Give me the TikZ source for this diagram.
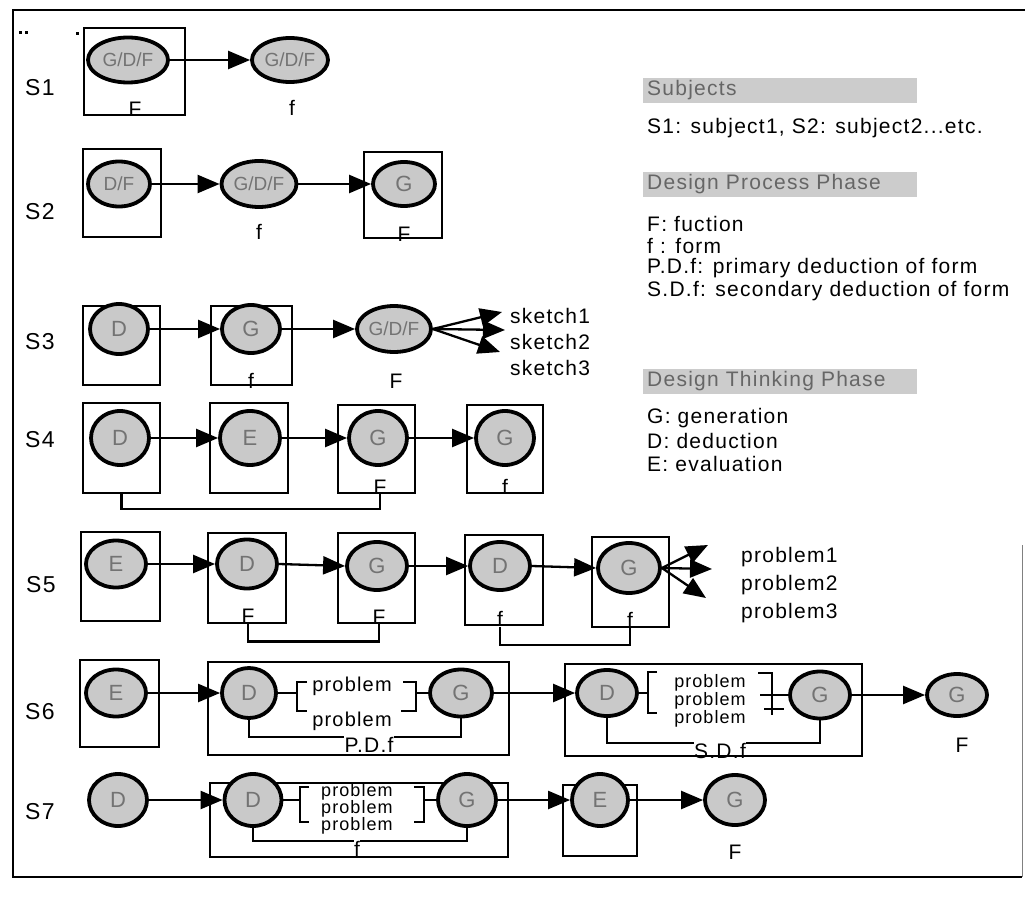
\documentclass[tikz,border=0pt]{standalone}
\usepackage{fontspec}
\setmainfont{Liberation Sans}
\newfontfamily\lsans{Liberation Sans}[LetterSpace=6]
\newfontfamily\lplain{Liberation Sans}
\usetikzlibrary{shapes.geometric,arrows.meta}
\tikzset{
  every node/.style={font=\lsans\fontsize{21}{24}\selectfont, inner sep=0pt},
  rowlab/.style={font=\lsans\fontsize{23}{24}\selectfont},
  bx/.style={draw, rectangle, line width=2.6pt},
  el/.style={ellipse, draw, line width=3.8pt, fill=gray!42, inner sep=0pt,
             font=\lplain\fontsize{22}{22}\selectfont, text=black!55},
  gdf/.style={font=\lplain\fontsize{19}{20}\selectfont},
  arr/.style={line width=2.3pt, -{Triangle[length=22pt,width=18pt]}},
  conn/.style={line width=2.2pt},
  hdr/.style={fill=gray!40, anchor=west, text width=266pt, inner xsep=4pt,
              minimum height=25pt, align=left, text=black!60},
  leg/.style={anchor=west},
  prb/.style={font=\lsans\fontsize{18}{18}\selectfont, align=center},
  prbig/.style={font=\lsans\fontsize{20}{22}\selectfont}
}
\begin{document}
\begin{tikzpicture}[x=1pt,y=-1pt]
\useasboundingbox (0,0) rectangle (1025,909);
% frame
\draw[line width=2.4pt] (1025,10) -- (13,10) -- (13,877) -- (1022,877);
\draw[line width=1pt, gray] (1022,545) -- (1022,877);
\fill (19,31) rectangle (22,34);
\fill (25,31) rectangle (28,34);
\fill (76,32) rectangle (79,35);

% ---------- legend ----------
\node[hdr] (h1) at (643,90.5) {Subjects};
\node[leg] (l1) at (647,128) {S1: subject1, S2: subject2...etc.};
\node[hdr] (h2) at (643,184.5) {Design Process Phase};
\node[leg] (l2) at (647,224) {F: fuction};
\node[leg] (l3) at (647,246) {f : form};
\node[leg] (l4) at (647,268) {P.D.f: primary deduction of form};
\node[leg] (l5) at (647,291) {S.D.f: secondary deduction of form};
\node[hdr] (h3) at (643,381) {Design Thinking Phase};
\node[leg] (l6) at (647,418) {G: generation};
\node[leg] (l7) at (647,441) {D: deduction};
\node[leg] (l8) at (647,464) {E: evaluation};

% ---------- S1 ----------
\node[rowlab] (s1) at (40,88) {S1};
\node[bx, minimum width=101pt, minimum height=87pt] (b11) at (134.5,71.5) {};
\node[el, gdf, minimum width=80pt, minimum height=45pt] (e11) at (128,60) {G/D/F};
\node (F11) at (135,109) {F};
\node[el, gdf, minimum width=76pt, minimum height=44pt] (e12) at (290,60) {G/D/F};
\node (f12) at (292,108) {f};
\draw[arr] (e11.east) -- (e12.west);

% ---------- S2 ----------
\node[rowlab] (s2) at (40,212) {S2};
\node[bx, minimum width=78pt, minimum height=88pt] (b21) at (122,193) {};
\node[el, gdf, minimum width=62pt, minimum height=45pt] (e21) at (119,184) {D/F};
\node[el, gdf, minimum width=75pt, minimum height=46pt] (e22) at (259,184) {G/D/F};
\node (f22) at (259,232) {f};
\node[bx, minimum width=78pt, minimum height=86pt] (b23) at (403,195) {};
\node[el, minimum width=62pt, minimum height=44pt] (e23) at (404,184) {G};
\node (F23) at (404,234) {F};
\draw[arr] (e21.east) -- (e22.west);
\draw[arr] (e22.east) -- (e23.west);

% ---------- S3 ----------
\node[rowlab] (s3) at (40,342) {S3};
\node[bx, minimum width=77pt, minimum height=79pt] (b31) at (121.5,345.5) {};
\node[el, minimum width=58pt, minimum height=50pt] (e31) at (119,329) {D};
\node[bx, minimum width=81pt, minimum height=79pt] (b32) at (251.5,345.5) {};
\node[el, minimum width=58pt, minimum height=48pt] (e32) at (251,329) {G};
\node (f32) at (251,381) {f};
\node[el, gdf, minimum width=74pt, minimum height=46pt] (e33) at (394,329) {G/D/F};
\node (F33) at (396,381) {F};
\draw[arr] (e31.east) -- (e32.west);
\draw[arr] (e32.east) -- (e33.west);
\coordinate (t31) at (502,312);
\coordinate (t32) at (505,330);
\coordinate (t33) at (500,352);
\draw[arr] (e33.east) -- (t31);
\draw[arr] (e33.east) -- (t32);
\draw[arr] (e33.east) -- (t33);
\node[anchor=west] (k1) at (510,316) {sketch1};
\node[anchor=west] (k2) at (510,342) {sketch2};
\node[anchor=west] (k3) at (510,368) {sketch3};

% ---------- S4 ----------
\node[rowlab] (s4) at (40,440) {S4};
\node[bx, minimum width=77pt, minimum height=90pt] (b41) at (121.5,448) {};
\node[el, minimum width=58pt, minimum height=54pt] (e41) at (120,438) {D};
\node[bx, minimum width=78pt, minimum height=90pt] (b42) at (249,448) {};
\node[el, minimum width=60pt, minimum height=54pt] (e42) at (250,438) {E};
\node[bx, minimum width=77pt, minimum height=88pt] (b43) at (376.5,449) {};
\node[el, minimum width=58pt, minimum height=54pt] (e43) at (378,438) {G};
\node (F43) at (380,487) {F};
\node[bx, minimum width=76pt, minimum height=88pt] (b44) at (505,449) {};
\node[el, minimum width=58pt, minimum height=54pt] (e44) at (505,438) {G};
\node (f44) at (505,487) {f};
\draw[arr] (e41.east) -- (e42.west);
\draw[arr] (e42.east) -- (e43.west);
\draw[arr] (e43.east) -- (e44.west);
\draw[conn] (b41.south) -- ++(0,15) -| (F43.south);

% ---------- S5 ----------
\node[rowlab] (s5) at (41,585) {S5};
\node[bx, minimum width=79pt, minimum height=89pt] (b51) at (120.5,576.5) {};
\node[el, minimum width=60pt, minimum height=47pt] (e51) at (116,564) {E};
\node[bx, minimum width=78pt, minimum height=90pt] (b52) at (247,578) {};
\node[el, minimum width=60pt, minimum height=49pt] (e52) at (247,564) {D};
\node (F52) at (248,616) {F};
\node[bx, minimum width=77pt, minimum height=90pt] (b53) at (376.5,578) {};
\node[el, minimum width=60pt, minimum height=48pt] (e53) at (377,566) {G};
\node (F53) at (379,617) {F};
\node[bx, minimum width=78pt, minimum height=90pt] (b54) at (504,580) {};
\node[el, minimum width=60pt, minimum height=48pt] (e54) at (500,566) {D};
\node (f54) at (500,619) {f};
\node[bx, minimum width=77pt, minimum height=90pt] (b55) at (630.5,582) {};
\node[el, minimum width=62pt, minimum height=50pt] (e55) at (629,568) {G};
\node (f55) at (630,620) {f};
\draw[arr] (e51.east) -- (e52.west);
\draw[arr] (e52.east) -- (e53.west);
\draw[arr] (e53.east) -- (e54.west);
\draw[arr] (e54.east) -- (e55.west);
\draw[conn] (F52.south) -- ++(0,18) -| (F53.south);
\draw[conn] (f54.south) -- ++(0,18) -| (f55.south);
\coordinate (t51) at (708,545);
\coordinate (t52) at (712,569);
\coordinate (t53) at (706,598);
\draw[arr] (e55.east) -- (t51);
\draw[arr] (e55.east) -- (t52);
\draw[arr] (e55.east) -- (t53);
\node[anchor=west] (q1) at (741,557) {problem1};
\node[anchor=west] (q2) at (741,585) {problem2};
\node[anchor=west] (q3) at (741,613) {problem3};

% ---------- S6 ----------
\node[rowlab] (s6) at (40,712) {S6};
\node[bx, minimum width=79pt, minimum height=87pt] (b61) at (119.5,703.5) {};
\node[el, minimum width=60pt, minimum height=47pt] (e61) at (116,693) {E};
\node[bx, minimum width=301pt, minimum height=93pt] (B62) at (358.5,708.5) {};
\node[el, minimum width=54pt, minimum height=50pt] (e62) at (249,693) {D};
\node[el, minimum width=62pt, minimum height=47pt] (e63) at (461,693) {G};
\coordinate (c62l) at (297,693);
\coordinate (c62r) at (416,693);
\draw[conn] (e62.east) -- (c62l);
\draw[conn] (307,682) -- (297,682) -- (297,711) -- (307,711);
\draw[conn] (403,682) -- (416,682) -- (416,711) -- (401,711);
\draw[conn] (c62r) -- (e63.west);
\node[prbig] (p61) at (352,686) {problem};
\node[prbig] (p62) at (352,721) {problem};
\node (pdf) at (369,745) {P.D.f};
\draw[conn] (e62.south) |- (pdf.north west);
\draw[conn] (pdf.north east) -| (e63.south);
\draw[arr] (e61.east) -- (e62.west);

\node[bx, minimum width=297pt, minimum height=92pt] (B63) at (713.5,710) {};
\node[el, minimum width=60pt, minimum height=46pt] (e64) at (607,693) {D};
\node[el, minimum width=60pt, minimum height=47pt] (e65) at (820,695) {G};
\coordinate (c64l) at (648,693);
\coordinate (c64r) at (760,695);
\draw[conn] (e64.east) -- (c64l);
\draw[conn] (657,672) -- (648,672) -- (648,713) -- (657,713);
\draw[conn] (758,673) -- (772,673) -- (772,715);
\draw[conn] (764,709) -- (784,709);
\draw[conn] (c64r) -- (e65.west);
\node[prb] (p63) at (710,701) {problem\\problem\\problem};
\node (sdf) at (720,751) {S.D.f};
\draw[conn] (e64.south) |- (sdf.north west);
\draw[conn] (sdf.north east) -| (e65.south);
\draw[arr] (e63.east) -- (e64.west);
\node[el, minimum width=60pt, minimum height=42pt] (e66) at (957,695) {G};
\node (F66) at (962,745) {F};
\draw[arr] (e65.east) -- (e66.west);

% ---------- S7 ----------
\node[rowlab] (s7) at (40,812) {S7};
\node[el, minimum width=58pt, minimum height=52pt] (e71) at (118,800) {D};
\node[bx, minimum width=298pt, minimum height=74pt] (B72) at (359,820) {};
\node[el, minimum width=57pt, minimum height=52pt] (e72) at (253,800) {D};
\node[el, minimum width=58pt, minimum height=52pt] (e73) at (467,800) {G};
\coordinate (c72l) at (300,800);
\coordinate (c72r) at (424,800);
\draw[conn] (e72.east) -- (c72l);
\draw[conn] (309,787) -- (300,787) -- (300,822) -- (309,822);
\draw[conn] (414,787) -- (424,787) -- (424,822) -- (414,822);
\draw[conn] (c72r) -- (e73.west);
\node[prb, font=\lsans\fontsize{18}{17}\selectfont] (p71) at (357,809) {problem\\problem\\problem};
\node (f72) at (357,849) {f};
\draw[conn] (e72.south) |- (f72.north west);
\draw[conn] (f72.north east) -| (e73.south);
\draw[arr] (e71.east) -- (e72.west);
\node[bx, minimum width=74pt, minimum height=71pt] (b74) at (600,820.5) {};
\node[el, minimum width=56pt, minimum height=52pt] (e74) at (600,800) {E};
\draw[arr] (e73.east) -- (e74.west);
\node[el, minimum width=60pt, minimum height=50pt] (e75) at (735,800) {G};
\node (F75) at (735,852) {F};
\draw[arr] (e74.east) -- (e75.west);
\end{tikzpicture}
\end{document}
